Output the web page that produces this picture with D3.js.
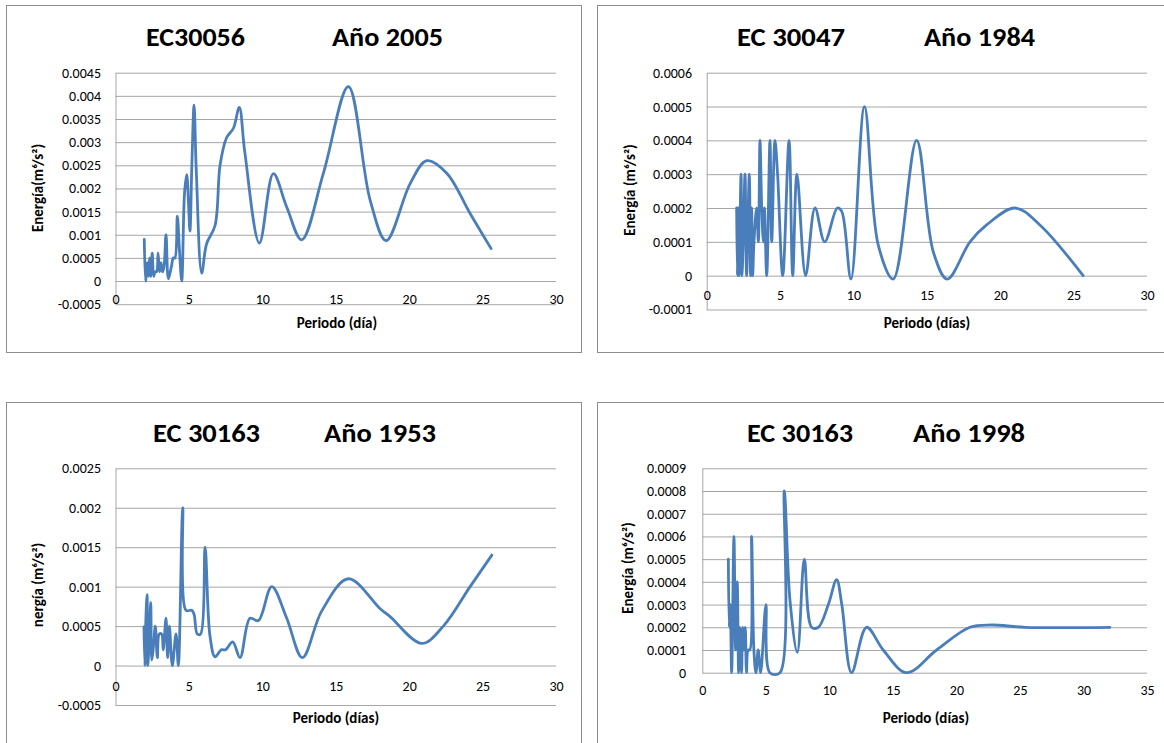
<!DOCTYPE html>
<html>
<head>
<meta charset="utf-8">
<script src="https://cdn.jsdelivr.net/npm/d3@7"></script>
<style>
  body { margin: 0; background: #fff; }
  svg { display: block; }
  .tick text { font-family: Carlito, Calibri, Lato, "Liberation Sans", sans-serif; font-size: 14px; fill: #000; }
</style>
</head>
<body>
<svg id="chart" width="1164" height="743"></svg>
<script>
// Spectral energy vs. period for four stations / years.

const periodo2005 = [1.96, 2.05, 2.15, 2.24, 2.32, 2.40, 2.50, 2.60, 2.70, 2.80, 2.90, 3.00, 3.10, 3.20, 3.30, 3.44, 3.60, 3.80, 3.94, 4.05, 4.21, 4.35, 4.51, 4.70, 4.85, 4.97, 5.07, 5.20, 5.35, 5.50, 5.87, 6.20, 6.78, 7.12, 7.57, 8.03, 8.43, 8.80, 9.80, 10.75, 11.66, 12.68, 14.16, 15.86, 17.34, 18.43, 20.06, 21.20, 22.56, 24.15, 25.58];
const energia2005 = [0.0009, 0.0000, 0.0004, 0.0001, 0.0005, 0.0001, 0.0006, 0.0001, 0.0002, 0.0002, 0.0006, 0.0002, 0.0004, 0.0002, 0.0003, 0.0010, 0.00005, 0.0003, 0.0005, 0.0005, 0.0014, 0.0007, 0.0000, 0.0019, 0.0023, 0.0017, 0.00108, 0.0025, 0.0038, 0.0024, 0.00017, 0.0008, 0.0012, 0.0025, 0.0031, 0.0033, 0.00375, 0.0028, 0.00082, 0.00232, 0.0016, 0.00089, 0.00233, 0.0042, 0.00175, 0.00087, 0.0021, 0.0026, 0.00233, 0.00146, 0.0007];

const periodo1984 = [2.04, 2.09, 2.15, 2.20, 2.34, 2.40, 2.49, 2.61, 2.72, 2.90, 2.99, 3.06, 3.13, 3.22, 3.40, 3.52, 3.63, 3.75, 3.86, 3.93, 4.09, 4.31, 4.43, 4.65, 4.83, 5.18, 5.61, 5.86, 6.15, 6.74, 7.38, 8.04, 8.90, 9.20, 9.83, 10.75, 11.69, 12.71, 14.30, 15.44, 16.39, 17.94, 19.07, 21.00, 22.70, 25.65];
const energia1984 = [0.0002, 0, 0.0002, 0, 0.0003, 0, 0.0001, 0.0003, 0, 0.0003, 0, 0.0002, 0, 0.0001, 0.0002, 0.0001, 0.0004, 0.0002, 0.0001, 0.0002, 0, 0.0004, 0.0001, 0.0004, 0.0003, 0, 0.0004, 0, 0.0003, 0, 0.0002, 0.0001, 0.0002, 0.00019, -0.00001, 0.0005, 0.00009, -0.00001, 0.0004, 0.00007, -0.00001, 0.0001, 0.00015, 0.0002, 0.00015, 0];

const periodo1953 = [1.94, 2.00, 2.07, 2.15, 2.20, 2.30, 2.40, 2.47, 2.58, 2.71, 2.85, 2.98, 3.14, 3.25, 3.44, 3.55, 3.67, 3.87, 4.12, 4.28, 4.58, 4.80, 5.19, 5.35, 5.57, 5.80, 6.10, 6.43, 6.78, 7.20, 7.50, 7.98, 8.48, 9.16, 9.73, 10.64, 11.66, 12.73, 14.04, 15.86, 18.02, 18.70, 20.86, 22.33, 24.15, 25.63];
const energia1953 = [0.00049, 0, 0.0006, 0.0009, 0, 0.00033, 0.0008, 0.00007, 0.00023, 0.0005, 0.0001, 0.0004, 0.0004, 0.0002, 0.0006, 0.0001, 0.0005, 0, 0.0004, 0, 0.002, 0.0007, 0.0007, 0.00065, 0.0004, 0.0004, 0.0015, 0.00038, 0.00011, 0.0002, 0.0002, 0.0003, 0.0001, 0.0006, 0.00057, 0.001, 0.0006, 0.0001, 0.00069, 0.0011, 0.00072, 0.00062, 0.00028, 0.0005, 0.001, 0.0014];

const periodo1998 = [2.05, 2.12, 2.20, 2.31, 2.49, 2.62, 2.75, 2.86, 2.96, 3.09, 3.17, 3.27, 3.38, 3.48, 3.61, 3.74, 3.88, 4.06, 4.22, 4.40, 4.59, 5.01, 5.32, 6.11, 6.45, 6.90, 7.48, 8.03, 8.60, 9.13, 9.92, 10.57, 10.98, 11.75, 12.93, 14.24, 16.08, 18.44, 21.06, 22.77, 25.39, 32.08];
const energia1998 = [0.0005, 0.0002, 0.0003, 0, 0.0006, 0.0001, 0.0004, 0, 0.0002, 0, 0.0002, 0.0001, 0.0002, 0, 0.0001, 0.0001, 0.0006, 0.0001, 0, 0.0001, 0, 0.0003, 0, 0, 0.0008, 0.00032, 0.00009, 0.0005, 0.0002, 0.0002, 0.0003, 0.00041, 0.0003, 0, 0.0002, 0.0001, 0, 0.0001, 0.0002, 0.00021, 0.0002, 0.0002];

const xTicks30 = [0, 5, 10, 15, 20, 25, 30];
const xTicks35 = [0, 5, 10, 15, 20, 25, 30, 35];
const yTicks2005 = [-0.0005, 0, 0.0005, 0.001, 0.0015, 0.002, 0.0025, 0.003, 0.0035, 0.004, 0.0045];
const yTicks1984 = [-0.0001, 0, 0.0001, 0.0002, 0.0003, 0.0004, 0.0005, 0.0006];
const yTicks1953 = [-0.0005, 0, 0.0005, 0.001, 0.0015, 0.002, 0.0025];
const yTicks1998 = [0, 0.0001, 0.0002, 0.0003, 0.0004, 0.0005, 0.0006, 0.0007, 0.0008, 0.0009];

const FONT = 'Carlito, Calibri, Lato, "Liberation Sans", sans-serif';
const LINE = '#4a7ebb';
const GRID = '#a6a6a6';

const panels = [
  { x: periodo2005, y: energia2005, xTicks: xTicks30, yTicks: yTicks2005,
    frame: [6, 5, 575, 347], left: 115.5, right: 556, top: 72.7, bottom: 304.2,
    xLabelY: 294, tickEnd: 101,
    t1: ['EC30056', 146, 99], t2: ['Año 2005', 332, 111], tY: 46,
    xTitle: ['Periodo (día)', 337, 328], yTitle: ['Energía(m⁶/s²)', 43, 188] },
  { x: periodo1984, y: energia1984, xTicks: xTicks30, yTicks: yTicks1984,
    frame: [597, 5, 620, 347], left: 706.7, right: 1147, top: 72.7, bottom: 309.5,
    xLabelY: 290, tickEnd: 692,
    t1: ['EC 30047', 737, 108], t2: ['Año 1984', 924, 111], tY: 46,
    xTitle: ['Periodo (días)', 927, 328], yTitle: ['Energía (m⁶/s²)', 635, 190] },
  { x: periodo1953, y: energia1953, xTicks: xTicks30, yTicks: yTicks1953,
    frame: [6, 402, 575, 360], left: 115.5, right: 556, top: 468.3, bottom: 705,
    xLabelY: 681, tickEnd: 101,
    t1: ['EC 30163', 153, 107], t2: ['Año 1953', 324, 112], tY: 442,
    xTitle: ['Periodo (días)', 336, 723], yTitle: ['nergía (m⁶/s²)', 43, 585] },
  { x: periodo1998, y: energia1998, xTicks: xTicks35, yTicks: yTicks1998,
    frame: [597, 402, 620, 360], left: 702.3, right: 1147, top: 468.3, bottom: 672.7,
    xLabelY: 685, tickEnd: 686,
    t1: ['EC 30163', 747, 106], t2: ['Año 1998', 913, 112], tY: 442,
    xTitle: ['Periodo (días)', 926, 723], yTitle: ['Energía (m⁶/s²)', 633, 568] }
];

const svg = d3.select('#chart');
svg.append('rect').attr('width', 1164).attr('height', 743).attr('fill', '#fff');

const fmt = d => String(+d.toFixed(4));

panels.forEach(p => {
  const g = svg.append('g');
  const [fx, fy, fw, fh] = p.frame;
  g.append('rect').attr('x', fx + 0.5).attr('y', fy + 0.5).attr('width', fw).attr('height', fh)
    .attr('fill', '#fff').attr('stroke', '#8e8e8e').attr('stroke-width', 1);

  const x = d3.scaleLinear().domain([p.xTicks[0], p.xTicks[p.xTicks.length - 1]]).range([p.left, p.right]);
  const y = d3.scaleLinear().domain([p.yTicks[0], p.yTicks[p.yTicks.length - 1]]).range([p.bottom, p.top]);

  // value axis with gridlines
  const ya = g.append('g').attr('transform', `translate(${p.left},0)`)
    .call(d3.axisLeft(y).tickValues(p.yTicks).tickFormat(fmt)
      .tickSize(-(p.right - p.left)).tickSizeOuter(0).tickPadding(p.left - p.tickEnd));
  ya.selectAll('.tick line').attr('stroke', GRID).attr('stroke-width', 1);
  ya.select('.domain').attr('stroke', GRID).attr('stroke-width', 1);

  // period labels
  const xa = g.append('g').attr('transform', `translate(0,${p.xLabelY})`)
    .call(d3.axisBottom(x).tickValues(p.xTicks).tickSize(0).tickPadding(0));
  xa.select('.domain').remove();

  // energy curve
  const line = d3.line().x(d => x(d[0])).y(d => y(d[1])).curve(d3.curveCatmullRom.alpha(0.5));
  g.append('path').datum(d3.zip(p.x, p.y)).attr('d', line)
    .attr('fill', 'none').attr('stroke', LINE).attr('stroke-width', 2.8)
    .attr('stroke-linejoin', 'round').attr('stroke-linecap', 'round');

  // titles
  [p.t1, p.t2].forEach(t => {
    g.append('text').attr('x', t[1]).attr('y', p.tY).text(t[0])
      .attr('font-family', FONT).attr('font-weight', 'bold').attr('font-size', 26)
      .attr('textLength', t[2]).attr('lengthAdjust', 'spacingAndGlyphs');
  });
  g.append('text').attr('x', p.xTitle[1]).attr('y', p.xTitle[2]).text(p.xTitle[0])
    .attr('text-anchor', 'middle').attr('font-family', FONT).attr('font-weight', 'bold').attr('font-size', 15);
  g.append('text').attr('transform', `translate(${p.yTitle[1]},${p.yTitle[2]}) rotate(-90)`).text(p.yTitle[0])
    .attr('text-anchor', 'middle').attr('font-family', FONT).attr('font-weight', 'bold').attr('font-size', 15);
});
</script>
</body>
</html>
